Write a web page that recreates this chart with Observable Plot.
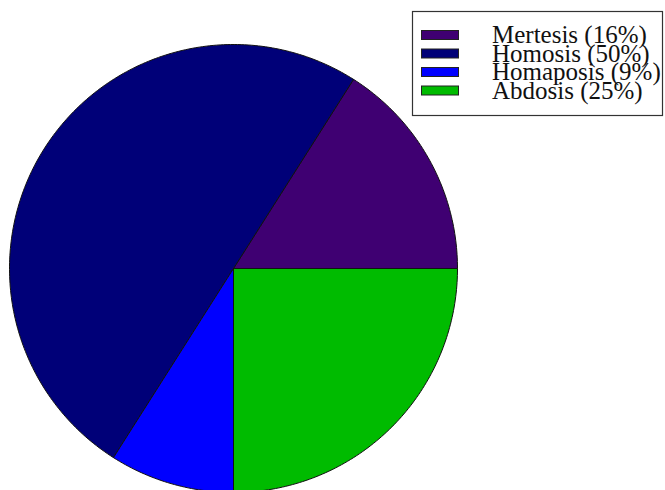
<!DOCTYPE html>
<html>
<head>
<meta charset="utf-8">
<script src="https://cdn.jsdelivr.net/npm/d3@7"></script>
<script src="https://cdn.jsdelivr.net/npm/@observablehq/plot@0.6"></script>
<style>
  html, body { margin: 0; padding: 0; background: #fff; }
  #wrap { position: relative; width: 665px; height: 490px; overflow: hidden; }
  #legend { position: absolute; left: 0; top: 0; }
</style>
</head>
<body>
<div id="wrap"></div>
<script>
const categories = ["Mertesis", "Homosis", "Homaposis", "Abdosis"];
const shares = [16, 50, 9, 25];
const colors = ["#3f0072", "#000078", "#0000ff", "#00bb00"];
const labels = ["Mertesis (16%)", "Homosis (50%)", "Homaposis (9%)", "Abdosis (25%)"];

// build slice outlines (unit circle), counter-clockwise from east
const total = d3.sum(shares);
const pts = [];
let acc = 0;
categories.forEach((c, i) => {
  const a0 = acc / total * 2 * Math.PI;
  acc += shares[i];
  const a1 = acc / total * 2 * Math.PI;
  const n = Math.max(8, Math.ceil((a1 - a0) / (2 * Math.PI) * 400));
  pts.push({cat: c, x: 0, y: 0});
  for (let k = 0; k <= n; k++) {
    const a = a0 + (a1 - a0) * k / n;
    pts.push({cat: c, x: Math.cos(a), y: Math.sin(a)});
  }
  pts.push({cat: c, x: 0, y: 0});
});

const chart = Plot.plot({
  width: 665,
  height: 490,
  x: {domain: [-1, 1], range: [9, 457], axis: null},
  y: {domain: [-1, 1], range: [492, 44], axis: null},
  color: {domain: categories, range: colors},
  style: {background: "#fff"},
  marks: [
    Plot.line(pts, {x: "x", y: "y", z: "cat", fill: "cat", stroke: "#111", strokeWidth: 1, curve: "linear"})
  ]
});
const wrap = document.getElementById("wrap");
wrap.appendChild(chart);

// legend overlay
const lg = d3.select(wrap).append("svg")
  .attr("id", "legend").attr("width", 665).attr("height", 130);
lg.append("rect").attr("x", 412.5).attr("y", 11.5).attr("width", 250).attr("height", 104)
  .attr("fill", "#fff").attr("stroke", "#333").attr("stroke-width", 1.2);
labels.forEach((t, i) => {
  const cy = 35 + i * 18.5;
  lg.append("rect").attr("x", 421.5).attr("y", cy - 4.5).attr("width", 37).attr("height", 9)
    .attr("fill", colors[i]).attr("stroke", "#222").attr("stroke-width", 1);
  lg.append("text").attr("x", 492).attr("y", cy + 8)
    .attr("font-family", "'Liberation Serif', 'Times New Roman', serif")
    .attr("font-size", 25).attr("fill", "#111").text(t);
});
</script>
</body>
</html>
